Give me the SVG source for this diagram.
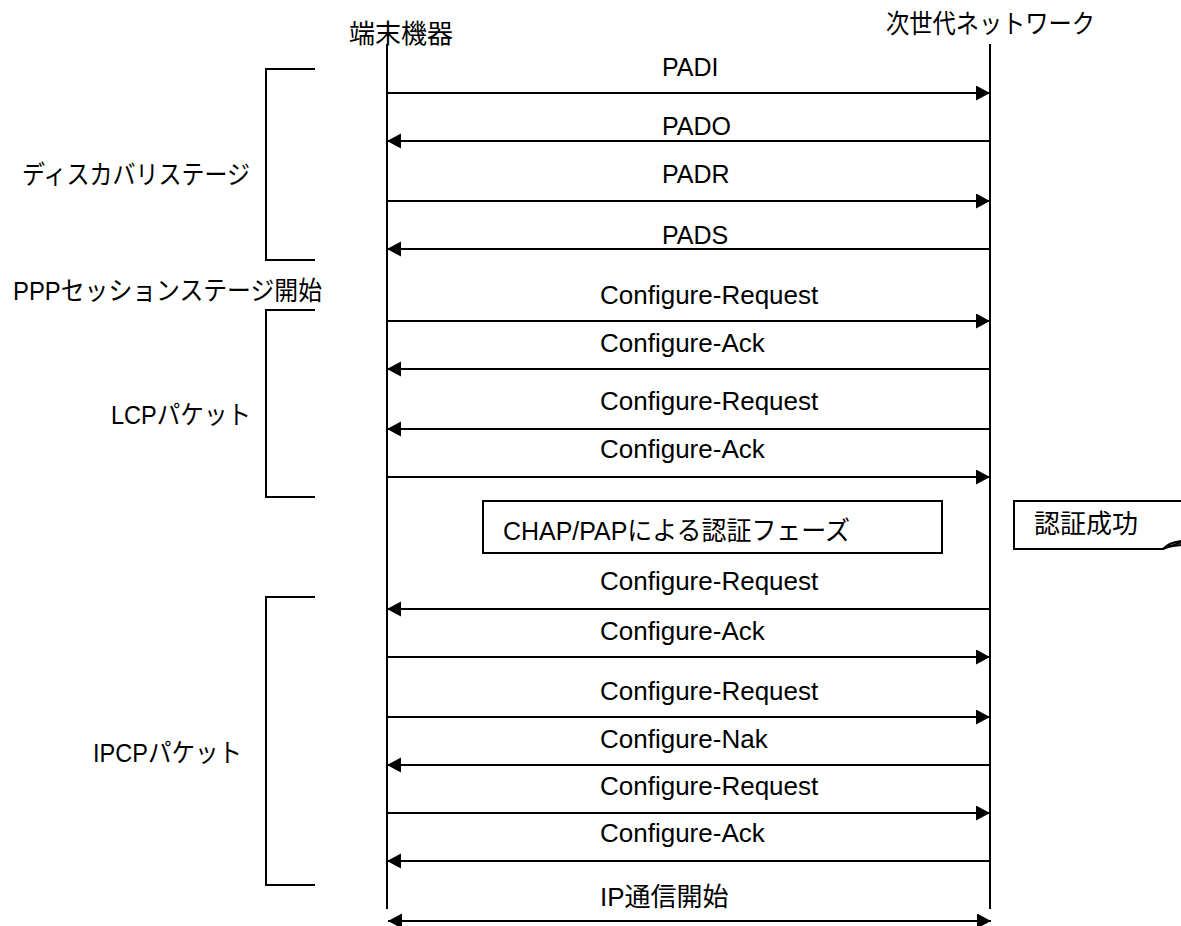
<svg xmlns="http://www.w3.org/2000/svg" width="1181" height="926" viewBox="0 0 1181 926">
<style>
text{font-family:"Liberation Sans","Noto Sans CJK JP",sans-serif;font-size:26px;fill:#000}
.pad{font-size:25px}
.ln{stroke:#000;stroke-width:2;fill:none}
.msg{stroke:#000;stroke-width:2;fill:none;marker-end:url(#ah)}
.box{stroke:#000;stroke-width:2;fill:#fff}
</style>
<defs>
<marker id="ah" markerUnits="userSpaceOnUse" markerWidth="15" markerHeight="16" refX="14" refY="7.5" orient="auto-start-reverse" viewBox="0 0 15 16">
<path d="M0,0 L14,7.5 L0,15 Z" fill="#000"/>
</marker>
</defs>
<rect width="1181" height="926" fill="#fff"/>

<g id="terminal">
<text x="349" y="43">端末機器</text>
<line class="ln" x1="387" y1="44" x2="387" y2="909"/>
</g>
<g id="ngn">
<text x="886" y="33" textLength="209" lengthAdjust="spacingAndGlyphs">次世代ネットワーク</text>
<line class="ln" x1="990" y1="44" x2="990" y2="909"/>
</g>

<g id="discovery-stage">
<polyline class="ln" points="315,69 266,69 266,260 315,260"/>
<text x="22" y="184" textLength="228" lengthAdjust="spacingAndGlyphs">ディスカバリステージ</text>
</g>
<g id="ppp-session-start">
<text x="13" y="300" textLength="309" lengthAdjust="spacingAndGlyphs">PPPセッションステージ開始</text>
</g>
<g id="lcp-packet">
<polyline class="ln" points="315,310 266,310 266,497 315,497"/>
<text x="111" y="424" textLength="140" lengthAdjust="spacingAndGlyphs">LCPパケット</text>
</g>
<g id="ipcp-packet">
<polyline class="ln" points="315,597 266,597 266,885 315,885"/>
<text x="93" y="762" textLength="149" lengthAdjust="spacingAndGlyphs">IPCPパケット</text>
</g>

<g id="auth-phase">
<rect class="box" x="483" y="501" width="459" height="52"/>
<text x="503" y="540" textLength="347" lengthAdjust="spacingAndGlyphs">CHAP/PAPによる認証フェーズ</text>
</g>
<g id="auth-success">
<path class="box" d="M1182,501 H1014 V549 H1163 L1182,542"/>
<path class="ln" d="M1163,549 Q1168,543 1181,541 M1166,547 L1181,545" stroke-width="1.5"/>
<text x="1034" y="533">認証成功</text>
</g>

<g id="connectors">
<line class="msg" x1="387" y1="93" x2="990" y2="93"/>
<text class="pad" x="662" y="76">PADI</text>
<line class="msg" x1="990" y1="141" x2="387" y2="141"/>
<text class="pad" x="662" y="135">PADO</text>
<line class="msg" x1="387" y1="201" x2="990" y2="201"/>
<text class="pad" x="662" y="183">PADR</text>
<line class="msg" x1="990" y1="249" x2="387" y2="249"/>
<text class="pad" x="662" y="244">PADS</text>

<line class="msg" x1="387" y1="321" x2="990" y2="321"/>
<text x="600" y="304">Configure-Request</text>
<line class="msg" x1="990" y1="369" x2="387" y2="369"/>
<text x="600" y="352">Configure-Ack</text>
<line class="msg" x1="990" y1="429" x2="387" y2="429"/>
<text x="600" y="410">Configure-Request</text>
<line class="msg" x1="387" y1="477" x2="990" y2="477"/>
<text x="600" y="458">Configure-Ack</text>

<line class="msg" x1="990" y1="609" x2="387" y2="609"/>
<text x="600" y="590">Configure-Request</text>
<line class="msg" x1="387" y1="657" x2="990" y2="657"/>
<text x="600" y="640">Configure-Ack</text>
<line class="msg" x1="387" y1="717" x2="990" y2="717"/>
<text x="600" y="700">Configure-Request</text>
<line class="msg" x1="990" y1="765" x2="387" y2="765"/>
<text x="600" y="748">Configure-Nak</text>
<line class="msg" x1="387" y1="813" x2="990" y2="813"/>
<text x="600" y="795">Configure-Request</text>
<line class="msg" x1="990" y1="861" x2="387" y2="861"/>
<text x="600" y="842">Configure-Ack</text>

<line class="msg" x1="388" y1="921" x2="991" y2="921" style="marker-start:url(#ah)"/>
<text x="600" y="906">IP通信開始</text>
</g>
</svg>
